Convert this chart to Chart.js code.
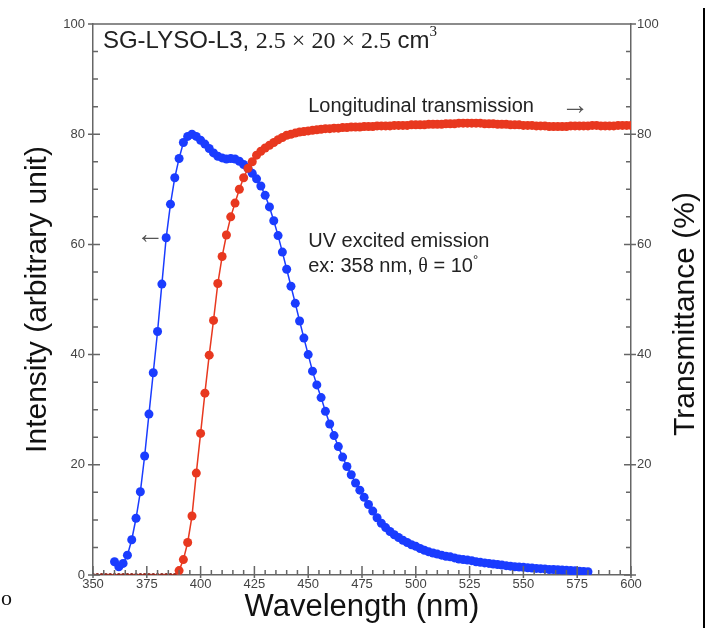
<!DOCTYPE html>
<html>
<head>
<meta charset="utf-8">
<title>SG-LYSO-L3 emission and transmittance</title>
<script src="https://cdn.jsdelivr.net/npm/chart.js@4/dist/chart.umd.min.js"></script>
<style>
  html, body { margin: 0; padding: 0; background: #fff; }
  canvas { display: block; }
</style>
</head>
<body>
<canvas id="chart" width="709" height="628"></canvas>
<script>
// --- DATA ---
const emissionNm = [360,362,364,366,368,370,372,374,376,378,380,382,384,386,388,390,392,394,396,398,
  400,402,404,406,408,410,412,414,416,418,420,422,424,426,428,430,432,434,436,438,
  440,442,444,446,448,450,452,454,456,458,460,462,464,466,468,470,472,474,476,478,
  480,482,484,486,488,490,492,494,496,498,500,502,504,506,508,510,512,514,516,518,
  520,522,524,526,528,530,532,534,536,538,540,542,544,546,548,550,552,554,556,558,
  560,562,564,566,568,570,572,574,576,578,580];
const emissionIntensity = [2.4,1.5,2.1,3.6,6.4,10.3,15.1,21.6,29.2,36.7,
  44.2,52.8,61.2,67.3,72.1,75.6,78.5,79.6,80.0,79.6,
  78.9,78.2,77.4,76.6,76.0,75.7,75.5,75.6,75.5,75.1,
  74.5,73.8,72.9,71.9,70.6,68.9,66.8,64.3,61.6,58.6,
  55.5,52.4,49.3,46.1,43.0,40.0,37.0,34.5,32.2,29.7,
  27.4,25.3,23.3,21.4,19.7,18.2,16.7,15.4,14.1,12.8,
  11.6,10.4,9.4,8.6,7.9,7.3,6.8,6.3,5.9,5.5,
  5.2,4.8,4.5,4.2,4.0,3.8,3.6,3.4,3.3,3.1,
  2.9,2.8,2.7,2.6,2.4,2.3,2.2,2.1,2.0,1.9,
  1.8,1.7,1.6,1.5,1.45,1.4,1.3,1.25,1.2,1.15,
  1.1,1.0,1.0,0.95,0.9,0.85,0.8,0.75,0.7,0.65,
  0.6];

const transNm = [350,352,354,356,358,360,362,364,366,368,370,372,374,376,378,380,382,384,386,388,
  390,392,394,396,398,400,402,404,406,408,410,412,414,416,418,420,422,424,426,428,
  430,432,434,436,438,440,442,444,446,448,450,452,454,456,458,460,462,464,466,468,
  470,472,474,476,478,480,482,484,486,488,490,492,494,496,498,500,502,504,506,508,
  510,512,514,516,518,520,522,524,526,528,530,532,534,536,538,540,542,544,546,548,
  550,552,554,556,558,560,562,564,566,568,570,572,574,576,578,580,582,584,586,588,
  590,592,594,596,598,600];
const transPercent = [0,0,0,0,0,0,0,0,0,0,
  0,0,0,0,0,0,0,0,0,0,
  0.8,2.8,5.9,10.7,18.5,25.7,33.0,39.9,46.2,52.9,
  57.8,61.7,65.0,67.5,70.0,72.1,73.8,75.0,76.2,76.9,
  77.5,78.0,78.5,79.0,79.4,79.8,80.0,80.2,80.4,80.5,
  80.6,80.7,80.8,80.9,81.0,81.0,81.1,81.1,81.2,81.2,
  81.3,81.3,81.3,81.4,81.4,81.4,81.5,81.5,81.5,81.5,
  81.6,81.6,81.6,81.6,81.7,81.7,81.7,81.7,81.8,81.8,
  81.8,81.8,81.9,81.9,81.9,82.0,82.0,82.0,82.0,82.0,
  82.0,81.9,81.9,81.9,81.8,81.8,81.8,81.7,81.7,81.7,
  81.6,81.6,81.6,81.5,81.5,81.5,81.4,81.4,81.4,81.4,
  81.4,81.5,81.5,81.5,81.5,81.5,81.6,81.6,81.5,81.5,
  81.5,81.5,81.6,81.6,81.6,81.6];

const xTickValues = [350, 375, 400, 425, 450, 475, 500, 525, 550, 575, 600];
const leftTickValues = [0, 20, 40, 60, 80, 100];
const rightTickValues = [20, 40, 60, 80, 100];

// --- styles ---
const BLUE = '#1a3cff';
const RED = '#e8381f';
const AXIS = '#666';
const SANS = '"Liberation Sans", Arial, sans-serif';
const SERIF = '"Liberation Serif", "Times New Roman", serif';
const tickFont = { family: SANS, size: 13 };

// draws the top frame line and the small in/out tick marks
const frameTicks = {
    id: 'frameTicks',
    afterDatasetsDraw(chart) {
        const { ctx, chartArea: a, scales } = chart;
        ctx.save();
        ctx.strokeStyle = AXIS;
        ctx.lineWidth = 1.5;
        ctx.beginPath();
        ctx.moveTo(a.left, a.top);
        ctx.lineTo(a.right, a.top);

        // x ticks every 5 nm, major every 25
        for (let v = 350; v <= 600; v += 5) {
            const px = scales.x.getPixelForValue(v);
            const major = v % 25 === 0;
            ctx.moveTo(px, a.bottom + (major ? 3 : 0));
            ctx.lineTo(px, a.bottom - (major ? 9 : 5));
        }
        // y ticks every 5, major every 20
        for (let v = 0; v <= 100; v += 5) {
            const pyL = scales.y.getPixelForValue(v);
            const pyR = scales.yRight.getPixelForValue(v);
            const major = v % 20 === 0;
            ctx.moveTo(a.left - (major ? 5 : 0), pyL);
            ctx.lineTo(a.left + (major ? 7 : 5), pyL);
            ctx.moveTo(a.right + (major ? 5 : 0), pyR);
            ctx.lineTo(a.right - (major ? 7 : 5), pyR);
        }
        ctx.stroke();
        ctx.restore();
    }
};

function drawRuns(ctx, x, y, runs) {
    runs.forEach(r => {
        ctx.font = r.font;
        ctx.fillText(r.text, x, y + (r.dy || 0));
        x += ctx.measureText(r.text).width;
    });
}

// labels inside the plot, the right axis title and the page edge marks
const annotations = {
    id: 'annotations',
    afterDraw(chart) {
        const { ctx } = chart;
        const x = chart.scales.x, y = chart.scales.y;
        ctx.save();
        ctx.fillStyle = '#222';
        ctx.textBaseline = 'alphabetic';
        ctx.textAlign = 'left';

        drawRuns(ctx, x.getPixelForValue(354.6), y.getPixelForValue(95.6), [
            { text: 'SG-LYSO-L3, ', font: `24px ${SANS}` },
            { text: '2.5 \u00d7 20 \u00d7 2.5', font: `24px ${SERIF}` },
            { text: ' cm', font: `24px ${SANS}` },
            { text: '3', font: `15px ${SERIF}`, dy: -12 }
        ]);

        const lx = x.getPixelForValue(450);
        drawRuns(ctx, lx, y.getPixelForValue(84.0), [
            { text: 'Longitudinal transmission', font: `20px ${SANS}` }
        ]);
        drawRuns(ctx, lx, y.getPixelForValue(59.5), [
            { text: 'UV excited emission', font: `20px ${SANS}` }
        ]);
        drawRuns(ctx, lx, y.getPixelForValue(55.0), [
            { text: 'ex: 358 nm, ', font: `20px ${SANS}` },
            { text: '\u03b8', font: `20px ${SERIF}` },
            { text: ' = 10', font: `20px ${SANS}` },
            { text: '\u00b0', font: `13px ${SANS}`, dy: -8 }
        ]);

        ctx.fillStyle = '#555';
        ctx.font = `28px ${SANS}`;
        ctx.fillText('\u2192', x.getPixelForValue(567.5), y.getPixelForValue(83.6));
        ctx.fillText('\u2190', x.getPixelForValue(370), y.getPixelForValue(60.2));

        // right axis title, reading bottom to top
        ctx.fillStyle = '#111';
        ctx.font = `30px ${SANS}`;
        ctx.textAlign = 'center';
        ctx.textBaseline = 'middle';
        ctx.translate(686, 314);
        ctx.rotate(-Math.PI / 2);
        ctx.fillText('Transmittance (%)', 0, 0);
        ctx.restore();

        // stray marks at the page edges of the scan
        ctx.save();
        ctx.fillStyle = '#111';
        ctx.font = `22px ${SERIF}`;
        ctx.fillText('o', 1, 605);
        ctx.strokeStyle = '#000';
        ctx.lineWidth = 2;
        ctx.beginPath();
        ctx.moveTo(704, 8);
        ctx.lineTo(704, 628);
        ctx.stroke();
        ctx.restore();
    }
};

new Chart(document.getElementById('chart'), {
    type: 'line',
    data: {
        datasets: [
            {
                label: 'Longitudinal transmission',
                data: transNm.map((nm, i) => ({ x: nm, y: transPercent[i] })),
                yAxisID: 'yRight',
                borderColor: RED,
                backgroundColor: RED,
                borderWidth: 1.5,
                pointRadius: ctx => (ctx.raw && ctx.raw.y === 0 ? 2 : 4.5),
                pointBorderWidth: 0,
                pointBackgroundColor: ctx => (ctx.raw && ctx.raw.y === 0 ? '#8a2a20' : RED),
                order: 0
            },
            {
                label: 'UV excited emission',
                data: emissionNm.map((nm, i) => ({ x: nm, y: emissionIntensity[i] })),
                yAxisID: 'y',
                borderColor: BLUE,
                backgroundColor: BLUE,
                borderWidth: 1.5,
                pointRadius: 4.5,
                pointBorderWidth: 0,
                order: 1
            }
        ]
    },
    options: {
        responsive: false,
        animation: false,
        devicePixelRatio: 1,
        layout: { padding: { top: 24, left: 0, right: 0, bottom: 0 } },
        plugins: { legend: { display: false }, tooltip: { enabled: false } },
        scales: {
            x: {
                type: 'linear', min: 350, max: 600,
                afterBuildTicks: s => { s.ticks = xTickValues.map(v => ({ value: v })); },
                afterFit: s => { s.height = 53; },
                grid: { display: false, drawTicks: false },
                border: { display: true, color: AXIS, width: 1.5 },
                ticks: { padding: 2, font: tickFont, color: '#444', autoSkip: false, maxRotation: 0 },
                title: { display: true, text: 'Wavelength (nm)', color: '#111',
                         font: { family: SANS, size: 31 }, padding: { top: 0, bottom: 2 } }
            },
            y: {
                position: 'left', min: 0, max: 100,
                afterBuildTicks: s => { s.ticks = leftTickValues.map(v => ({ value: v })); },
                afterFit: s => { s.width = 93; },
                grid: { display: false, drawTicks: false },
                border: { display: true, color: AXIS, width: 1.5 },
                ticks: { padding: 8, font: tickFont, color: '#444' },
                title: { display: true, text: 'Intensity (arbitrary unit)', color: '#111',
                         font: { family: SANS, size: 30 }, padding: { top: 20, bottom: 0 } }
            },
            yRight: {
                position: 'right', min: 0, max: 100,
                afterBuildTicks: s => { s.ticks = rightTickValues.map(v => ({ value: v })); },
                afterFit: s => { s.width = 78; },
                grid: { display: false, drawTicks: false },
                border: { display: true, color: AXIS, width: 1.5 },
                ticks: { padding: 6, font: tickFont, color: '#444' }
            }
        }
    },
    plugins: [frameTicks, annotations]
});
</script>
</body>
</html>
